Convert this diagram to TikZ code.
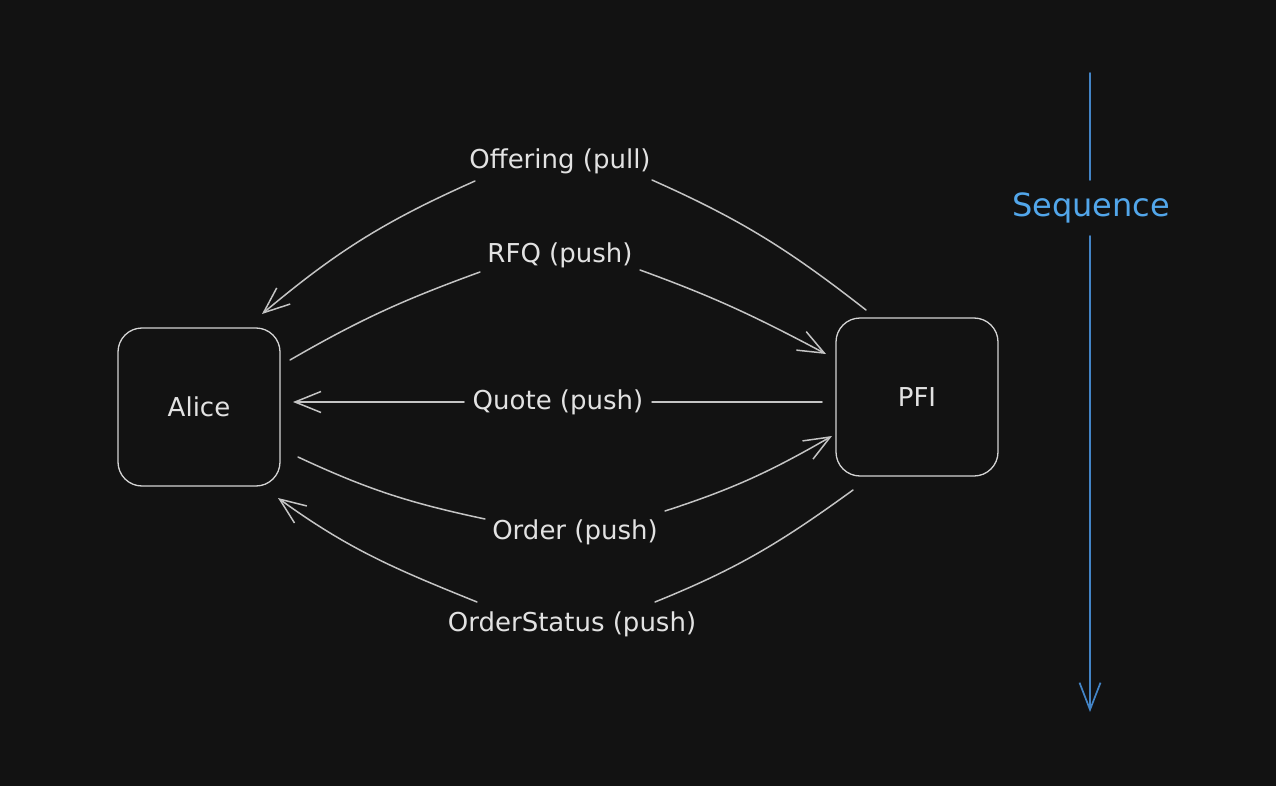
\documentclass[tikz,border=0pt]{standalone}
\usepackage{fontspec}
\setmainfont{DejaVu Sans}
\usetikzlibrary{arrows.meta}
\definecolor{bgc}{HTML}{121212}
\definecolor{txtc}{HTML}{E2E2E2}
\definecolor{linec}{HTML}{C4C4C4}
\definecolor{boxc}{HTML}{D4D4D4}
\definecolor{seqline}{HTML}{4384C6}
\definecolor{seqtext}{HTML}{52A6EA}
\begin{document}
\begin{tikzpicture}[x=1pt,y=1pt,
  box/.style={draw=boxc, line width=1.3pt, rounded corners=24pt, minimum width=162pt, minimum height=158pt, inner sep=0pt, text=txtc, font=\fontsize{26}{30}\selectfont},
  lbl/.style={text=txtc, font=\fontsize{26}{30}\selectfont, inner sep=0pt},
  conn/.style={draw=linec, line width=1.5pt, line cap=round},
  arr/.style={conn, -{Straight Barb[length=26pt,width=21pt]}},
  seqconn/.style={draw=seqline, line width=1.7pt, line cap=round},
  seqarr/.style={seqconn, -{Straight Barb[length=27pt,width=21pt]}},
]
\fill[bgc] (0,0) rectangle (1276,-786);
\useasboundingbox (0,0) rectangle (1276,-786);

% boxes
\node[box] (alice) at (199,-407) {Alice};
\node[box] (pfi) at (917,-397) {PFI};

% labels
\node[lbl] (lOff) at (560,-161) {Offering (pull)};
\node[lbl] (lRfq) at (560,-255) {RFQ (push)};
\node[lbl] (lQuo) at (558,-402) {Quote (push)};
\node[lbl] (lOrd) at (575,-532) {Order (push)};
\node[lbl] (lOst) at (572,-624) {OrderStatus (push)};
\node[text=seqtext, font=\fontsize{32}{34}\selectfont, inner sep=0pt] (lSeq) at (1091,-208) {Sequence};

% connector end points
\coordinate (offS) at (866,-310);
\coordinate (offR) at (652,-180);
\coordinate (offL) at (475,-181);
\coordinate (offE) at (262,-314);
\coordinate (rfqS) at (290,-360);
\coordinate (rfqL) at (480,-272);
\coordinate (rfqR) at (640,-270);
\coordinate (rfqE) at (826,-354);
\coordinate (quoS) at (822,-402);
\coordinate (quoR) at (652,-402);
\coordinate (quoL) at (464,-402);
\coordinate (quoE) at (293,-402);
\coordinate (ordS) at (298,-457);
\coordinate (ordL) at (485,-519);
\coordinate (ordR) at (665,-511);
\coordinate (ordE) at (832,-436);
\coordinate (ostS) at (853,-490);
\coordinate (ostR) at (655,-602);
\coordinate (ostL) at (477,-602);
\coordinate (ostE) at (278,-498);
\coordinate (seqT) at (1090,-73);
\coordinate (seqA) at (1090,-180);
\coordinate (seqB) at (1090,-236);
\coordinate (seqE) at (1090,-712);

% Offering (pull): PFI -> Alice
\draw[conn] (offS) to[out=142,in=-24] (offR);
\draw[arr] (offL) to[out=204,in=40] (offE);
% RFQ (push): Alice -> PFI
\draw[conn] (rfqS) to[out=30,in=200] (rfqL);
\draw[arr] (rfqR) to[out=-20,in=152] (rfqE);
% Quote (push): PFI -> Alice
\draw[conn] (quoS) -- (quoR);
\draw[arr] (quoL) -- (quoE);
% Order (push): Alice -> PFI
\draw[conn] (ordS) to[out=-25,in=168] (ordL);
\draw[arr] (ordR) to[out=18,in=210] (ordE);
% OrderStatus (push): PFI -> Alice
\draw[conn] (ostS) to[out=216,in=22] (ostR);
\draw[arr] (ostL) to[out=158,in=-36] (ostE);
% Sequence
\draw[seqconn] (seqT) -- (seqA);
\draw[seqarr] (seqB) -- (seqE);
\end{tikzpicture}
\end{document}
